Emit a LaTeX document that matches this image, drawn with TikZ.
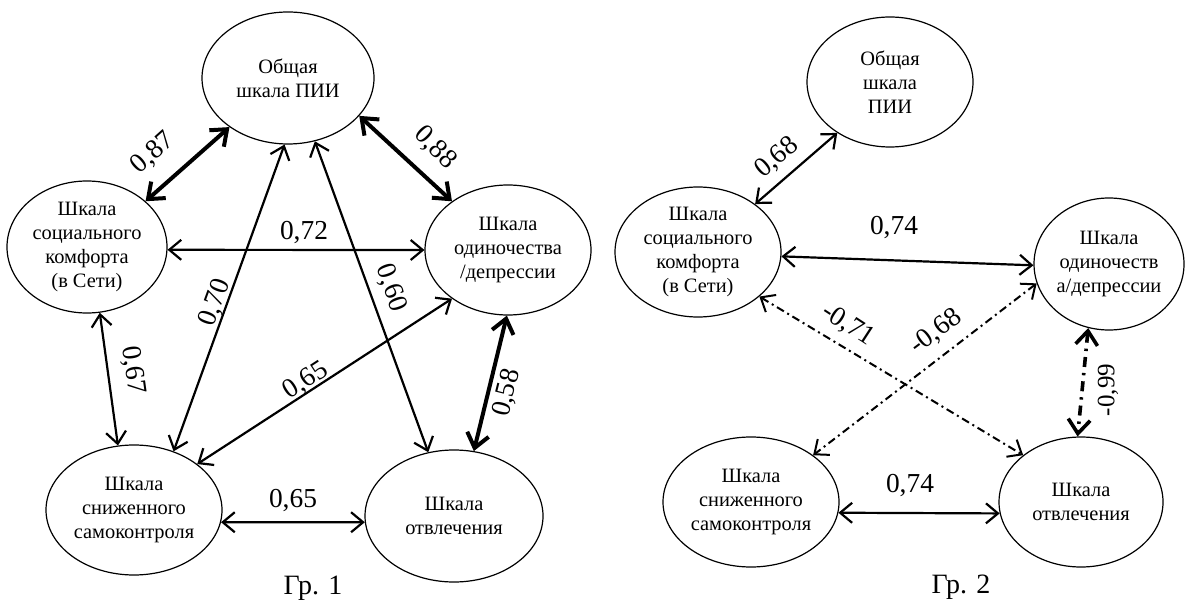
\documentclass[tikz,border=0pt]{standalone}
\usepackage{fontspec}
\setmainfont{Liberation Serif}
\usetikzlibrary{shapes.geometric,arrows.meta}
\tikzset{
  ell/.style={draw, ellipse, line width=0.6pt, inner sep=0pt, align=center,
    font=\fontsize{10.2}{12}\selectfont},
  conn/.style={line width=1.1pt,
    {Straight Barb[length=6pt,width=10pt]}-{Straight Barb[length=6pt,width=10pt]}},
  thickconn/.style={line width=2pt,
    {Straight Barb[length=7pt,width=11pt]}-{Straight Barb[length=7pt,width=11pt]}},
  dd/.style={line width=1pt, dash pattern=on 4pt off 2pt on 1pt off 2pt,
    {Straight Barb[length=6pt,width=10pt]}-{Straight Barb[length=6pt,width=10pt]}},
  thickdd/.style={line width=1.8pt, dash pattern=on 5pt off 3pt on 1.2pt off 3pt,
    {Straight Barb[length=7pt,width=11pt]}-{Straight Barb[length=7pt,width=11pt]}},
  lab/.style={font=\fontsize{13.7}{16}\selectfont, inner sep=0pt},
  grcap/.style={font=\fontsize{14}{16}\selectfont, inner sep=0pt}
}
\begin{document}
\begin{tikzpicture}[x=0.5pt,y=-0.5pt]
\useasboundingbox[fill=white] (0,0) rectangle (1186,603);
% ---------- Group 1 ----------
\node[ell, minimum width=86pt, minimum height=66pt] (A) at (288,78) {Общая\\шкала ПИИ};
\node[ell, minimum width=80pt, minimum height=66pt] (B) at (87,247) {Шкала\\социального\\комфорта\\(в Сети)};
\node[ell, minimum width=83pt, minimum height=65pt] (C) at (508,250) {Шкала\\одиночества\\/депрессии};
\node[ell, minimum width=88pt, minimum height=65pt] (D) at (134,510) {Шкала\\сниженного\\самоконтроля};
\node[ell, minimum width=89pt, minimum height=66pt] (E) at (454,516) {Шкала\\отвлечения};

\draw[thickconn] (A.220) -- (B.38);
\draw[thickconn] (A.-28) -- (C.139);
\draw[conn] (B.-2) -- (C.180);
\draw[conn] (A.267) -- (D.56);
\draw[conn] (A.293) -- (E.112);
\draw[conn] (B.-79) -- (D.104);
\draw[conn] (C.221) -- (D.36);
\draw[thickconn] (C.269) -- (E.73);
\draw[conn] (D.-8) -- (E.184);

\node[lab, rotate=42] (l87) at (153,153) {0,87};
\node[lab, rotate=-45] (l88) at (435,148) {0,88};
\node[lab] (l72) at (304,232) {0,72};
\node[lab, rotate=70] (l70) at (215,303) {0,70};
\node[lab, rotate=-70] (l60) at (391,288) {0,60};
\node[lab, rotate=-82] (l67) at (133,370) {0,67};
\node[lab, rotate=33] (l65a) at (306,381) {0,65};
\node[lab, rotate=76] (l58) at (507,393) {0,58};
\node[lab] (l65b) at (293,500) {0,65};
\node[grcap] (g1) at (313,588) {Гр. 1};

% ---------- Group 2 ----------
\node[ell, minimum width=83pt, minimum height=65pt] (A2) at (890,82) {Общая\\шкала\\ПИИ};
\node[ell, minimum width=83pt, minimum height=65pt] (B2) at (698,252) {Шкала\\социального\\комфорта\\(в Сети)};
\node[ell, minimum width=75pt, minimum height=66pt] (C2) at (1109,264) {Шкала\\одиночеств\\а/депрессии};
\node[ell, minimum width=88pt, minimum height=65pt] (D2) at (751,502) {Шкала\\сниженного\\самоконтроля};
\node[ell, minimum width=82pt, minimum height=65pt] (E2) at (1081,502) {Шкала\\отвлечения};

\draw[conn] (A2.224) -- (B2.40);
\draw[conn] (B2.-3) -- (C2.181);
\draw[dd] (B2.-36) -- (E2.141);
\draw[dd] (C2.195) -- (D2.37);
\draw[thickdd] (C2.252) -- (E2.93);
\draw[conn] (D2.-7) -- (E2.188);

\node[lab, rotate=40] (m68) at (777,158) {0,68};
\node[lab] (m74a) at (894,227) {0,74};
\node[lab, rotate=-33] (m71) at (848,325) {-0,71};
\node[lab, rotate=37] (m68b) at (936,332) {-0,68};
\node[lab, rotate=90, font=\fontsize{12.5}{14}\selectfont] (m99) at (1108,390) {-0,99};
\node[lab] (m74b) at (910,485) {0,74};
\node[grcap] (g2) at (961,587) {Гр. 2};
\end{tikzpicture}
\end{document}
